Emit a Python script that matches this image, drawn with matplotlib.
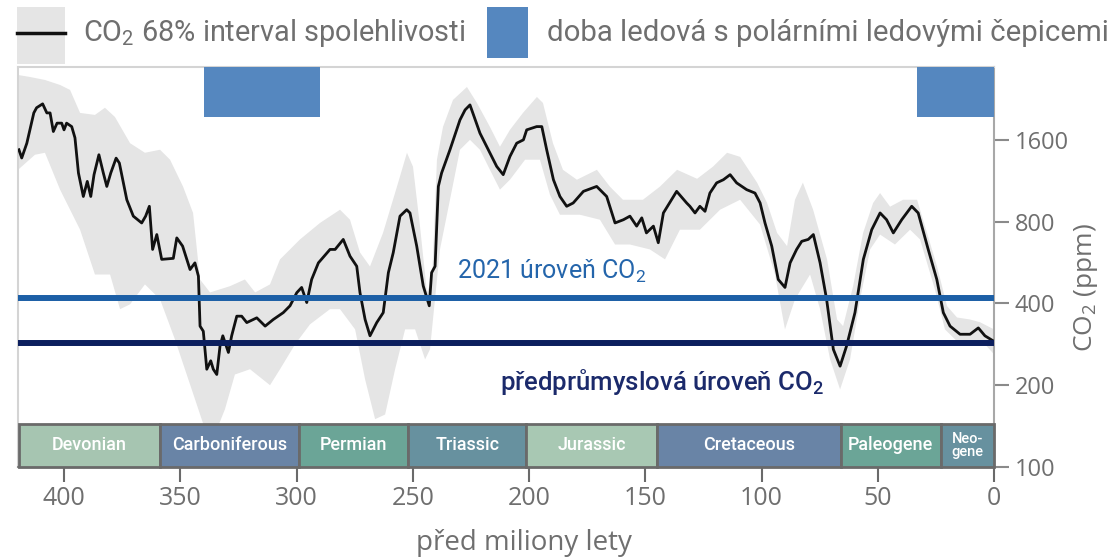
import matplotlib
matplotlib.use("Agg")
import matplotlib.pyplot as plt
from matplotlib.patches import Rectangle
from matplotlib.lines import Line2D
import matplotlib.transforms as mtransforms

plt.rcParams['font.family'] = ['Roboto', 'DejaVu Sans']
plt.rcParams['mathtext.fontset'] = 'custom'
plt.rcParams['mathtext.rm'] = 'Roboto'

# ---------------- data (millions of years ago, ppm) ----------------
AGE_MA = [419.4, 418.2, 416, 413, 411.8, 409.2, 407.4, 406, 404.6, 403, 401, 400,
          398.9, 396.7, 395.3, 393.8, 391.7, 390, 388.5, 387.1, 385, 383.1, 381.6,
          379.9, 377.6, 376.2, 373, 370.2, 366.6, 364.9, 363.3, 361.9, 360.1, 358,
          353, 351.5, 349, 345.8, 343.7, 342.2, 341.5, 340.1, 338.6, 336.9, 335.8,
          334.3, 332.9, 331.7, 329.3, 327.9, 325.7, 323.6, 321.4, 317.1, 313.5, 310,
          305.7, 302.8, 299.9, 297.8, 295.6, 293.5, 290.6, 285.6, 283.4, 279.9, 277,
          274.1, 272.7, 270.5, 268.4, 265.5, 262.7, 260.5, 258.4, 255.5, 252.6, 251.2,
          248.3, 245.5, 242.9, 241.9, 240.4, 239, 237.6, 234, 229.7, 227.5, 225.4,
          221.1, 218.2, 213.9, 211.1, 208.2, 205.3, 202.4, 201, 196.7, 194.5, 192.4,
          189.5, 186.7, 183.8, 181, 176.6, 170.9, 166.6, 163, 159.4, 156.6, 153.7,
          151.5, 149.5, 146.5, 144.4, 142.2, 136.5, 132.2, 130.8, 128.6, 126.5, 124.3,
          122.2, 119.3, 116.4, 113.5, 110.7, 106.4, 102.8, 100.6, 98.5, 95.6, 92.8,
          89.9, 87.7, 84.9, 82.7, 79.9, 77.7, 74.8, 72, 69.1, 66.2, 63.4, 59.8, 56.2,
          52.6, 49, 46.2, 43.3, 39.7, 35.4, 32.6, 28.3, 24.6, 21.8, 18.9, 14.6, 10.3,
          6.75, 3.9, 0.3]
CO2_PPM = [1471, 1372, 1555, 2010, 2100, 2170, 2010, 2010, 1717, 1843, 1843, 1741,
           1843, 1790, 1628, 1208, 990, 1125, 990, 1191, 1410, 1208, 1078,
           1208, 1370, 1314, 963, 838, 791, 838, 911, 632, 717, 581,
           586, 697, 650, 533, 564, 504, 330, 316, 229, 246, 229,
           219, 279, 304, 264, 304, 359, 359, 340, 354, 330, 349,
           370, 392, 438, 458, 403, 490, 564, 632, 632, 688, 597,
           548, 438, 349, 304, 340, 370, 519, 615, 838, 885, 861,
           650, 464, 392, 519, 548, 1078, 1208, 1471, 1894, 2062, 2151,
           1693, 1512, 1277, 1191, 1390, 1555, 1600, 1741, 1790, 1790, 1471,
           1141, 990, 911, 937, 1034, 1078, 990, 791, 813, 838, 770,
           826, 727, 770, 669, 861, 1034, 937, 911, 861, 911, 873,
           1019, 1111, 1141, 1191, 1111, 1049, 1019, 937, 791, 650, 490,
           458, 564, 632, 677, 688, 717, 564, 414, 271, 235, 279, 370, 581,
           747, 861, 813, 727, 813, 911, 861, 632, 490, 370, 330, 308, 308,
           325, 304, 291]

BAND_UP_AGE = [419.8, 414.6, 408.2, 401.7, 397.4, 393.1, 386.7, 382.4, 378.1, 371.6,
               365.2, 358.7, 354.4, 348.8, 344.5, 341.5, 337.2, 328.6, 322.2, 317.8,
               311.4, 307.1, 302.8, 298.5, 289.9, 281.3, 277, 272.7, 268.4, 262.8,
               256.8, 252.5, 249.9, 246.9, 243.9, 241.7, 239.6, 237, 232.7, 226.7,
               222.4, 216.8, 212.5, 208.2, 202.6, 196.6, 194, 189.7, 185.4, 179.4,
               170.8, 165.2, 159.6, 151, 143.7, 136.3, 127.7, 120.9, 114.8, 109.2,
               101.9, 97.6, 93.3, 89, 85.6, 82.2, 77.8, 71.8, 67.5, 64.9, 60.6, 56.3,
               52, 49, 44.7, 39.1, 33.1, 28.8, 24.5, 20.2, 15.9, 10.3, 6, 0]
BAND_UP_PPM = [2772, 2725, 2657, 2547, 2442, 2010, 1976, 2100, 1942, 1555,
               1434, 1471, 1352, 1076, 861, 490, 439, 463, 490, 439,
               470, 581, 632, 688, 791, 885, 813, 616, 547, 727,
               1076, 1434, 1274, 770, 439, 490, 1352, 1785, 2244, 2504,
               2187, 1785, 1509, 1741, 2010, 2301, 2187, 1555, 1241, 1141,
               1241, 1076, 963, 963, 1076, 1241, 1150, 1274, 1434, 1385,
               1113, 937, 727, 650, 963, 1113, 885, 581, 349, 330, 463, 727,
               937, 1019, 908, 963, 963, 727, 547, 391, 355, 349, 341, 321]

BAND_LO_AGE = [419.8, 412.5, 408.2, 401.7, 393.1, 386.7, 380.2, 375.9, 371.6, 365.2,
               358.7, 352.3, 348, 343.7, 339.4, 335.1, 330.8, 326.5, 320, 311.4,
               307.1, 300.6, 294.2, 285.6, 281.3, 274.8, 270.5, 266.2, 261.9, 257.6,
               253.3, 249, 244.7, 242.6, 238.3, 234, 229.7, 225.4, 221.1, 216.8,
               212.5, 208.2, 201.7, 195.3, 191, 186.7, 178.1, 169.5, 163, 156.6,
               148, 141.5, 135.1, 126.5, 117.8, 109.2, 100.6, 94.2, 89.9, 85.6, 79.1,
               74.8, 70.5, 66.2, 61.9, 57.6, 53.3, 49, 42.6, 36.1, 31.8, 25.4, 21.1,
               14.6, 8.2, 3.9, 0]
BAND_LO_PPM = [1241, 1410, 1434, 1049, 747, 511, 511, 381, 397, 470,
               414, 295, 229, 178, 138, 132, 163, 219, 229, 200,
               229, 283, 335, 381, 381, 321, 210, 150, 156, 229,
               321, 321, 249, 271, 632, 963, 1471, 1600, 1471, 1241,
               1049, 1141, 1352, 1352, 1005, 848, 848, 813, 659, 659,
               632, 581, 747, 747, 885, 963, 780, 511, 321, 414, 511,
               381, 249, 193, 249, 414, 632, 717, 659, 747, 688, 450, 321,
               283, 283, 283, 260]

ICE_START = [340, 33]
ICE_END = [290, 0]

PERIOD_NAMES = ["Devonian", "Carboniferous", "Permian", "Triassic", "Jurassic",
                "Cretaceous", "Paleogene", "Neo-\ngene"]
PERIOD_START = [419.2, 358.9, 298.9, 251.9, 201.3, 145.0, 66.0, 23.0]
PERIOD_END = [358.9, 298.9, 251.9, 201.3, 145.0, 66.0, 23.0, 0.0]
PERIOD_COLORS = ["#a6c5b1", "#6984a6", "#6ba597", "#67919f", "#a8c8b3",
                 "#6984a6", "#6ba597", "#67919f"]

LEVEL_2021 = 420
LEVEL_PREIND = 285

X_TICKS = [400, 350, 300, 250, 200, 150, 100, 50, 0]
Y_TICKS = [100, 200, 400, 800, 1600]

# ---------------- figure ----------------
W, H = 1115, 558
fig = plt.figure(figsize=(W / 100, H / 100), dpi=100)
ax = fig.add_axes([18 / W, 1 - 467 / H, (994 - 18) / W, (467 - 67) / H])

ax.set_yscale('log')
ax.set_xlim(419.8, 0)
ax.set_ylim(100, 2966)

# confidence band
poly_x = BAND_UP_AGE + BAND_LO_AGE[::-1]
poly_y = BAND_UP_PPM + BAND_LO_PPM[::-1]
ax.fill(poly_x, poly_y, color='#e5e5e5', lw=0, zorder=1)

# CO2 line
ax.plot(AGE_MA, CO2_PPM, color='#111111', lw=2.0, zorder=3,
        solid_joinstyle='round')

# reference levels
ax.axhline(LEVEL_2021, color='#1c5fa6', lw=4.3, zorder=4)
ax.axhline(LEVEL_PREIND, color='#0c1f5e', lw=4.3, zorder=4)
ax.text(231, 525, r'2021 úroveň CO$_\mathregular{2}$', color='#2465ab',
        fontsize=18, ha='left', va='center', zorder=6)
ax.text(212.5, 205, r'předprůmyslová úroveň CO$_\mathregular{2}$', color='#1b2a6b',
        fontsize=18.5, fontweight='medium', ha='left', va='center', zorder=6)

# ice ages
for s, e in zip(ICE_START, ICE_END):
    ax.axvspan(e, s, ymin=0.875, ymax=1.0, color='#5587bf', lw=0, zorder=7)

# geologic periods
trans = mtransforms.blended_transform_factory(ax.transData, ax.transAxes)
for name, s, e, c in zip(PERIOD_NAMES, PERIOD_START, PERIOD_END, PERIOD_COLORS):
    ax.add_patch(Rectangle((e, 0.0), s - e, 0.108, transform=trans,
                           facecolor=c, edgecolor='#6a6a6a', lw=2.0, zorder=8,
                           clip_on=False))
    fs = 13 if '\n' not in name else 10.5
    ax.text((s + e) / 2, 0.054, name, transform=trans, ha='center', va='center',
            color='white', fontsize=fs, fontweight='medium', zorder=9,
            linespacing=0.95)

# axes styling
ax.yaxis.tick_right()
ax.yaxis.set_label_position('right')
ax.set_yticks(Y_TICKS)
ax.set_yticklabels([str(v) for v in Y_TICKS])
ax.yaxis.set_minor_locator(matplotlib.ticker.NullLocator())
ax.set_xticks(X_TICKS)
ax.set_xticklabels([str(v) for v in X_TICKS])
ax.tick_params(axis='x', length=11, width=1.5, color='#6a6a6a', pad=3,
               labelsize=18, labelcolor='#6f6f6f')
ax.tick_params(axis='y', length=11, width=1.5, color='#8a8a8a', pad=4,
               labelsize=17, labelcolor='#6f6f6f')
for lab in ax.get_xticklabels() + ax.get_yticklabels():
    lab.set_family(['Open Sans', 'DejaVu Sans'])

for side in ['left', 'top']:
    ax.spines[side].set_color('#d4d4d4')
    ax.spines[side].set_linewidth(1.5)
ax.spines['right'].set_color('#a8a8a8')
ax.spines['right'].set_linewidth(1.5)
ax.spines['bottom'].set_color('#8a8a8a')
ax.spines['bottom'].set_linewidth(1.5)

ax.set_xlabel('před miliony lety', fontsize=20, color='#6f6f6f',
              family=['Open Sans', 'DejaVu Sans'])
ax.xaxis.set_label_coords((524 - 18) / 976, -(543 - 467) / 400)
ax.xaxis.label.set_va('center')
ax.set_ylabel(r'CO$_\mathregular{2}$ (ppm)', fontsize=19, color='#6f6f6f',
              family=['Open Sans', 'DejaVu Sans'])
ax.yaxis.set_label_coords((1086 - 18) / 976, (467 - 288) / 400)
ax.yaxis.label.set_va('center')

# legend (drawn in figure coordinates)
def fx(px):
    return px / W

def fy(py):
    return 1 - py / H

fig.add_artist(Rectangle((fx(17), fy(64)), fx(48), 57 / H, transform=fig.transFigure,
                         facecolor='#e5e5e5', lw=0))
fig.add_artist(Line2D([fx(17), fx(65)], [fy(33), fy(33)], transform=fig.transFigure,
                      color='#111111', lw=2.5))
fig.text(fx(83), fy(33), r'CO$_\mathregular{2}$ 68% interval spolehlivosti',
         fontsize=20.8, color='#6f6f6f', va='center', ha='left')
fig.add_artist(Rectangle((fx(487), fy(58)), fx(41), 51 / H, transform=fig.transFigure,
                         facecolor='#5587bf', lw=0))
fig.text(fx(547), fy(33), 'doba ledová s polárními ledovými čepicemi',
         fontsize=21.2, color='#6f6f6f', va='center', ha='left')

fig.savefig('out.png', dpi=100)
